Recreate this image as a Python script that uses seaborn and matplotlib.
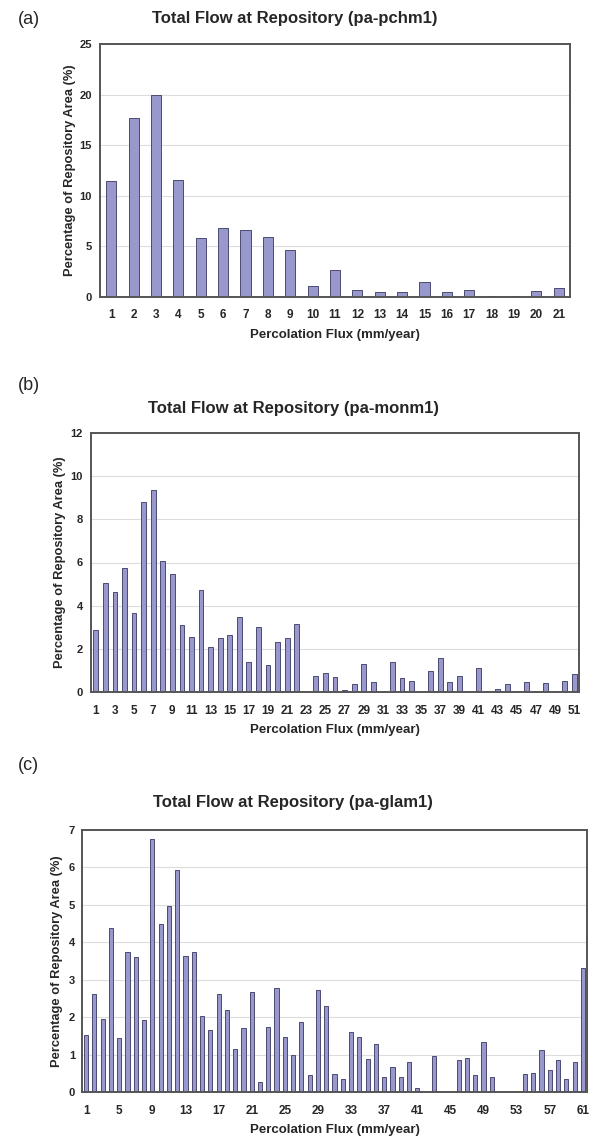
import matplotlib
matplotlib.use("Agg")
import matplotlib.pyplot as plt
import seaborn as sns
import pandas as pd

# ---------------- data ----------------
flux_a = list(range(1, 22))
pct_a = [11.5, 17.7, 20.0, 11.6, 5.85, 6.85, 6.6, 5.95, 4.65, 1.1, 2.65,
         0.65, 0.5, 0.47, 1.45, 0.5, 0.65, 0.1, 0.07, 0.6, 0.92]

flux_b = list(range(1, 52))
pct_b = [2.85, 5.05, 4.62, 5.75, 3.65, 8.8, 9.37, 6.06, 5.48, 3.1,
         2.57, 4.72, 2.08, 2.48, 2.65, 3.47, 1.41, 3.0, 1.27, 2.3,
         2.48, 3.16, 0.0, 0.73, 0.88, 0.7, 0.08, 0.39, 1.32, 0.46,
         0.0, 1.39, 0.65, 0.51, 0.0, 0.98, 1.58, 0.46, 0.73, 0.0,
         1.11, 0.0, 0.15, 0.39, 0.0, 0.46, 0.0, 0.43, 0.0, 0.51, 0.82]

flux_c = list(range(1, 62))
pct_c = [1.51, 2.62, 1.95, 4.39, 1.44, 3.75, 3.61, 1.92, 6.77, 4.48,
         4.96, 5.93, 3.64, 3.75, 2.02, 1.65, 2.62, 2.18, 1.15, 1.7,
         2.66, 0.26, 1.73, 2.79, 1.47, 1.0, 1.86, 0.45, 2.73, 2.31,
         0.48, 0.36, 1.6, 1.47, 0.88, 1.29, 0.39, 0.68, 0.39, 0.8,
         0.12, 0.0, 0.95, 0.0, 0.0, 0.85, 0.9, 0.46, 1.33, 0.41,
         0.0, 0.0, 0.0, 0.49, 0.5, 1.12, 0.6, 0.85, 0.34, 0.8, 3.31]

titles = ["Total Flow at Repository (pa-pchm1)",
          "Total Flow at Repository (pa-monm1)",
          "Total Flow at Repository (pa-glam1)"]
panel_labels = ["(a)", "(b)", "(c)"]
xlabel = "Percolation Flux (mm/year)"
ylabel = "Percentage of Repository Area (%)"
x_tick_step = [1, 2, 4]
y_max = [25, 12, 7]
y_step = [5, 2, 1]

# ---------------- style ----------------
sns.set_theme(style="white")
plt.rcParams['font.family'] = ['Liberation Sans', 'DejaVu Sans']

W, H = 590, 1141
fig = plt.figure(figsize=(W / 100, H / 100), dpi=100)

# axes boxes in pixels: left, top, right, bottom
boxes = [(100, 44, 570, 297), (91, 433, 579, 692), (82, 830, 587, 1092)]
title_x = [295, 293, 293]
title_y = [19, 408, 803]
label_xy = [(18, 20), (18, 386), (18, 766)]
xlabel_y = [335, 730, 1130]
ylabel_x = [70, 60, 57]
ytick_pad = [6, 6, 5]

bar_face = "#9898cc"
bar_edge = "#4a4a72"

datasets = [(flux_a, pct_a), (flux_b, pct_b), (flux_c, pct_c)]

for i, (fx, py) in enumerate(datasets):
    l, t, r, b = boxes[i]
    ax = fig.add_axes([l / W, 1 - b / H, (r - l) / W, (b - t) / H])
    df = pd.DataFrame({"flux": fx, "pct": py})
    sns.barplot(data=df, x="flux", y="pct", ax=ax, color=bar_face,
                saturation=1, width=0.45 if i == 0 else 0.5,
                edgecolor=bar_edge, linewidth=0.7)
    ax.set_ylim(0, y_max[i])
    yt = list(range(0, y_max[i] + 1, y_step[i]))
    ax.set_yticks(yt)
    ax.set_yticklabels([str(v) for v in yt], fontsize=8, fontweight='bold')
    step = x_tick_step[i]
    pos = list(range(0, len(fx), step))
    ax.set_xticks(pos)
    ax.set_xticklabels([str(fx[p]) for p in pos], fontsize=8.5, fontweight='bold')
    ax.set_xlim(-0.5, len(fx) - 0.5)
    ax.tick_params(axis='x', length=0, pad=9)
    ax.tick_params(axis='y', length=0, pad=ytick_pad[i])
    ax.yaxis.grid(True, color="#dcdcdc", linewidth=0.8)
    ax.set_axisbelow(True)
    for s in ax.spines.values():
        s.set_visible(True)
        s.set_color("#555555")
        s.set_linewidth(1.4)
    ax.set_xlabel("")
    ax.set_ylabel("")
    fig.text(title_x[i] / W, 1 - title_y[i] / H, titles[i], ha='center',
             va='center', fontsize=12, fontweight='bold')
    fig.text(label_xy[i][0] / W, 1 - label_xy[i][1] / H, panel_labels[i],
             ha='left', va='center', fontsize=13)
    fig.text((l + r) / 2 / W, 1 - xlabel_y[i] / H, xlabel, ha='center',
             va='center', fontsize=9.5, fontweight='bold')
    fig.text(ylabel_x[i] / W, 1 - (t + b) / 2 / H, ylabel, ha='center',
             va='center', rotation=90, fontsize=9.3, fontweight='bold')

fig.savefig("out.png", dpi=100)
